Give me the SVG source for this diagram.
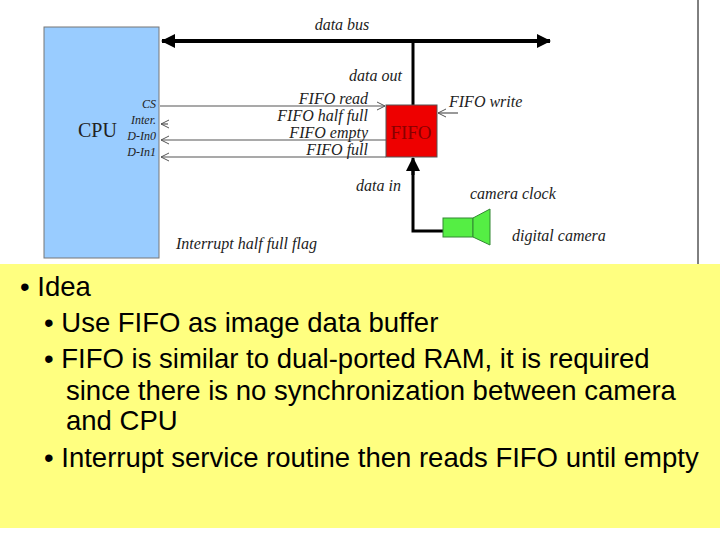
<svg xmlns="http://www.w3.org/2000/svg" width="720" height="540" viewBox="0 0 720 540">
<defs>
<style>
.it{font-family:"Liberation Serif",serif;font-style:italic;font-size:16px;fill:#222}
.b{font-family:"Liberation Sans",Arial,sans-serif;font-size:27.5px;fill:#000}
.s{stroke:#555;stroke-width:1.2;fill:none}
.cl{font-family:"Liberation Serif",serif;font-style:italic;font-size:12px;fill:#222;text-anchor:end}
</style>
<marker id="op" markerWidth="10" markerHeight="10" refX="9" refY="5" orient="auto" markerUnits="userSpaceOnUse"><path d="M1,1 L9,5 L1,9" fill="none" stroke="#555" stroke-width="1"/></marker>
<marker id="fb" markerWidth="14" markerHeight="14" refX="13" refY="7" orient="auto" markerUnits="userSpaceOnUse"><path d="M0,0 L14,7 L0,14 Z" fill="#000"/></marker>
</defs>
<rect width="720" height="540" fill="#fff"/>
<line x1="698" y1="0" x2="698" y2="264" stroke="#000"/>
<g id="connectors">
<line x1="175" y1="41" x2="550" y2="41" stroke="#000" stroke-width="4" marker-end="url(#fb)"/>
<line x1="540" y1="41" x2="162" y2="41" stroke="#000" stroke-width="4" marker-end="url(#fb)"/>
<line x1="413" y1="41" x2="413" y2="105" stroke="#000" stroke-width="3"/>
<polyline points="443,231 413,231 413,170" fill="none" stroke="#000" stroke-width="3"/>
<line x1="413" y1="175" x2="413" y2="158" stroke="#000" stroke-width="3" marker-end="url(#fb)"/>
<line x1="160" y1="106" x2="385" y2="106" class="s" marker-end="url(#op)"/>
<line x1="168" y1="124" x2="161" y2="124" class="s" marker-end="url(#op)"/>
<line x1="386" y1="140" x2="161" y2="140" class="s" marker-end="url(#op)"/>
<line x1="386" y1="157" x2="161" y2="157" class="s" marker-end="url(#op)"/>
<line x1="458" y1="113" x2="438" y2="113" class="s" marker-end="url(#op)"/>
</g>
<g id="cpu">
<rect x="44" y="27" width="115" height="231" fill="#99ccff" stroke="#777"/>
<text x="78" y="137" font-family="Liberation Serif,serif" font-size="20" fill="#222">CPU</text>
<text x="156" y="108" class="cl">CS</text>
<text x="156" y="124" class="cl">Inter.</text>
<text x="156" y="140" class="cl">D-In0</text>
<text x="156" y="156" class="cl">D-In1</text>
</g>
<g id="fifo">
<rect x="386" y="105" width="51" height="52" fill="#ee0000" stroke="#555"/>
<text x="411" y="139" text-anchor="middle" font-family="Liberation Serif,serif" font-size="19" fill="#880000">FIFO</text>
</g>
<g id="camera">
<rect x="443" y="218" width="30" height="19" fill="#55ee44" stroke="#338833"/>
<polygon points="473,218 490,209 490,245 473,237" fill="#55ee44" stroke="#338833"/>
</g>
<g id="labels">
<text x="342" y="30" class="it" text-anchor="middle">data bus</text>
<text x="402" y="81" class="it" text-anchor="end">data out</text>
<text x="368" y="104" class="it" text-anchor="end">FIFO read</text>
<text x="368" y="121" class="it" text-anchor="end">FIFO half full</text>
<text x="368" y="138" class="it" text-anchor="end">FIFO empty</text>
<text x="368" y="155" class="it" text-anchor="end">FIFO full</text>
<text x="449" y="107" class="it">FIFO write</text>
<text x="401" y="191" class="it" text-anchor="end">data in</text>
<text x="470" y="199" class="it">camera clock</text>
<text x="512" y="241" class="it" font-size="17">digital camera</text>
<text x="176" y="249" class="it">Interrupt half full flag</text>
</g>
<g id="text-box">
<rect x="0" y="264" width="720" height="264" fill="#ffff80"/>
<text x="20" y="296" class="b" font-size="31">• Idea</text>
<text x="44" y="332" class="b">• Use FIFO as image data buffer</text>
<text x="44" y="368" class="b">• FIFO is similar to dual-ported RAM, it is required</text>
<text x="66" y="400" class="b">since there is no synchronization between camera</text>
<text x="66" y="430" class="b">and CPU</text>
<text x="44" y="467" class="b">• Interrupt service routine then reads FIFO until empty</text>
</g>
</svg>
